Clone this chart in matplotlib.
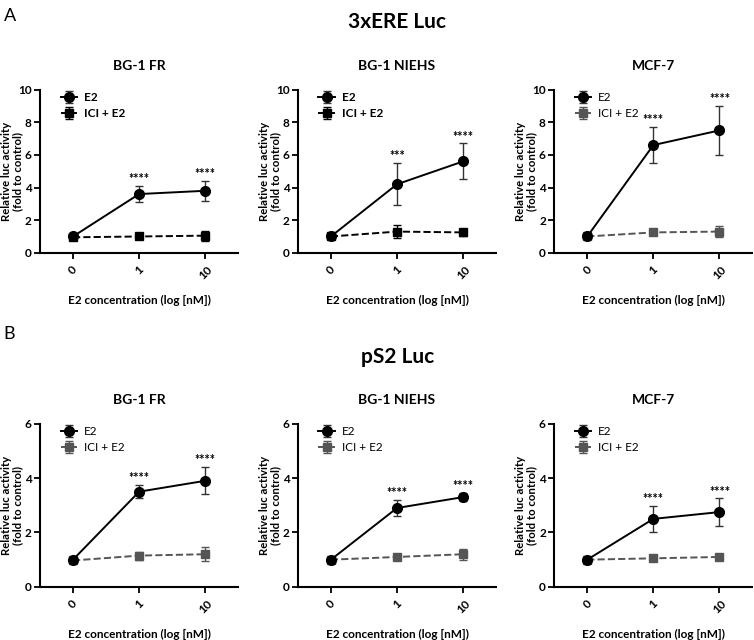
import matplotlib.pyplot as plt

plt.rcParams['font.family'] = ['Lato', 'DejaVu Sans']

doses = ['0', '1', '10']
cells = ['BG-1 FR', 'BG-1 NIEHS', 'MCF-7']

# panel A: 3xERE Luc
ere_e2 = [[1.0, 3.6, 3.8], [1.0, 4.2, 5.6], [1.0, 6.6, 7.5]]
ere_e2_err = [[0.1, 0.5, 0.6], [0.1, 1.3, 1.1], [0.1, 1.1, 1.5]]
ere_ici = [[0.95, 1.0, 1.05], [1.0, 1.3, 1.25], [1.0, 1.25, 1.3]]
ere_ici_err = [[0.05, 0.1, 0.3], [0.05, 0.4, 0.2], [0.05, 0.15, 0.35]]
ere_stars = [['', '****', '****'], ['', '***', '****'], ['', '****', '****']]

# panel B: pS2 Luc
ps2_e2 = [[1.0, 3.5, 3.9], [1.0, 2.9, 3.3], [1.0, 2.5, 2.75]]
ps2_e2_err = [[0.05, 0.25, 0.5], [0.05, 0.3, 0.15], [0.05, 0.47, 0.5]]
ps2_ici = [[0.97, 1.15, 1.2], [1.0, 1.1, 1.2], [1.0, 1.05, 1.1]]
ps2_ici_err = [[0.05, 0.15, 0.25], [0.03, 0.05, 0.2], [0.03, 0.1, 0.1]]
ps2_stars = [['', '****', '****'], ['', '****', '****'], ['', '****', '****']]

fig = plt.figure(figsize=(7.54, 6.4), dpi=100)

lefts = [0.053, 0.395, 0.735]
w, h = 0.263, 0.255


def panel(ax, e2, e2err, ici, icierr, stars, ymax, ici_col, title, leg_bold):
    x = list(range(len(doses)))
    ax.errorbar(x, e2, yerr=e2err, color='black', marker='o', ms=7, lw=1.4,
                capsize=3, elinewidth=1, ecolor='#333333', label='E2', zorder=3)
    ax.errorbar(x, ici, yerr=icierr, color=ici_col, marker='s', ms=6, lw=1.4,
                ls='--', capsize=3, elinewidth=1, label='ICI + E2', zorder=2)
    for i in x:
        if stars[i]:
            ax.text(i, e2[i] + e2err[i] + ymax * 0.005, stars[i], ha='center',
                    va='bottom', fontsize=9, fontweight='bold')
    ax.set_xlim(-0.5, 2.5)
    ax.set_ylim(0, ymax)
    ax.set_yticks(range(0, ymax + 1, 2))
    ax.set_xticks(x)
    ax.set_xticklabels(doses, rotation=45, ha='center', fontweight='bold', fontsize=8.5)
    for t in ax.get_yticklabels():
        t.set_fontweight('bold')
        t.set_fontsize(8.5)
    for s in ['top', 'right']:
        ax.spines[s].set_visible(False)
    for s in ['left', 'bottom']:
        ax.spines[s].set_linewidth(1.5)
    ax.tick_params(width=1.3, length=4, pad=2)
    ax.tick_params(axis='x', pad=4)
    ax.set_title(title, fontsize=10, fontweight='bold', pad=14)
    ax.set_ylabel('Relative luc activity\n(fold to control)', fontsize=8.2,
                  fontweight='bold', linespacing=1.0)
    ax.yaxis.set_label_coords(-0.085, 0.5)
    ax.set_xlabel('E2 concentration (log [nM])', fontsize=8.5, fontweight='bold',
                  labelpad=10)
    leg = ax.legend(loc='upper left', bbox_to_anchor=(0.05, 1.05), frameon=False,
                    fontsize=8.5, handlelength=1.4, handletextpad=0.6,
                    labelspacing=0.4)
    if leg_bold:
        for t in leg.get_texts():
            t.set_fontweight('bold')


for k in range(3):
    ax = fig.add_axes([lefts[k], 0.605, w, h])
    panel(ax, ere_e2[k], ere_e2_err[k], ere_ici[k], ere_ici_err[k], ere_stars[k],
          10, 'black' if k < 2 else '#555555', cells[k], k < 2)
    ax = fig.add_axes([lefts[k], 0.083, w, h])
    panel(ax, ps2_e2[k], ps2_e2_err[k], ps2_ici[k], ps2_ici_err[k], ps2_stars[k],
          6, '#555555', cells[k], False)

fig.text(0.527, 0.965, '3xERE Luc', ha='center', va='center', fontsize=15,
         fontweight='bold')
fig.text(0.527, 0.442, 'pS2 Luc', ha='center', va='center', fontsize=15,
         fontweight='bold')
fig.text(0.005, 0.988, 'A', ha='left', va='top', fontsize=13)
fig.text(0.005, 0.49, 'B', ha='left', va='top', fontsize=13)

fig.savefig('out.png', dpi=100)
